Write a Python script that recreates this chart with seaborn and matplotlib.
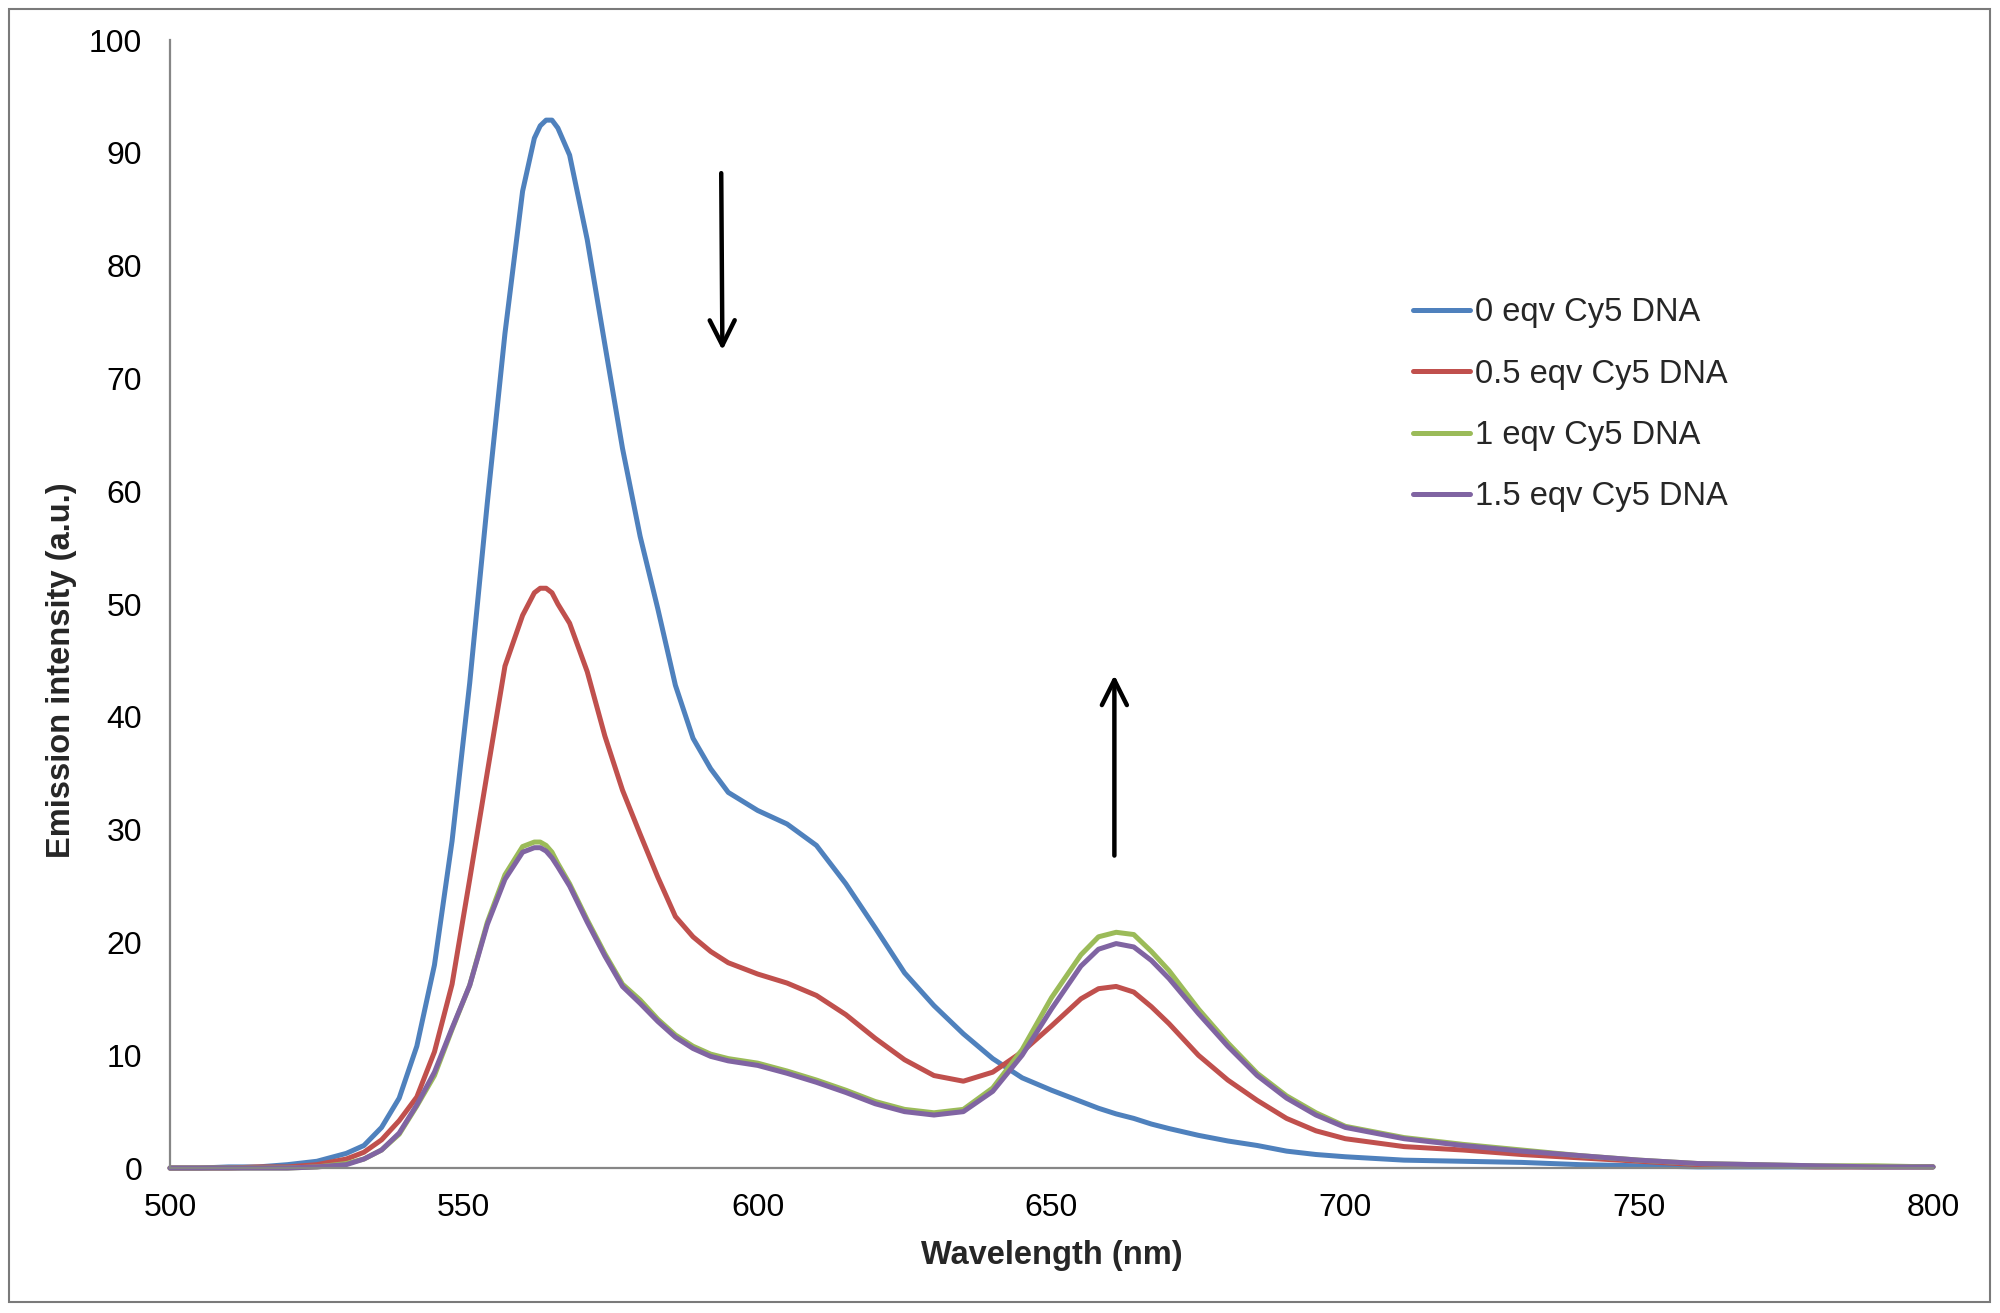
import matplotlib
matplotlib.use('Agg')
import numpy as np
import pandas as pd
import matplotlib.pyplot as plt
import seaborn as sns
from matplotlib.patches import Rectangle

# Emission spectra, values
wavelength = [500, 505, 510, 515, 520, 525, 530, 533, 536, 539,
              542, 545, 548, 551, 554, 557, 560, 562, 563, 564, 565, 566,
              568, 571, 574, 577, 580, 583, 586, 589, 592, 595,
              600, 605, 610, 615, 620, 625, 630, 635, 640, 645,
              650, 655, 658, 661, 664, 667, 670, 675, 680, 685,
              690, 695, 700, 710, 720, 730, 740, 750, 760, 770,
              780, 790, 800]

eqv_0 = [0.0, 0.0, 0.1, 0.1, 0.3, 0.6, 1.3, 2.0, 3.6, 6.2,
         10.8, 18.0, 29.0, 43.0, 59.0, 74.0, 86.6, 91.3, 92.4, 92.9, 92.9, 92.2,
         89.8, 82.3, 73.0, 63.8, 56.0, 49.6, 42.8, 38.1, 35.4, 33.3,
         31.7, 30.5, 28.6, 25.2, 21.3, 17.3, 14.4, 11.9, 9.7, 8.0,
         6.9, 5.9, 5.3, 4.8, 4.4, 3.9, 3.5, 2.9, 2.4, 2.0,
         1.5, 1.2, 1.0, 0.7, 0.6, 0.5, 0.3, 0.2, 0.1, 0.1,
         0.1, 0.1, 0.1]

eqv_05 = [0.0, 0.0, 0.0, 0.1, 0.1, 0.3, 0.8, 1.4, 2.5, 4.2,
          6.3, 10.3, 16.3, 25.6, 35.1, 44.5, 49.0, 51.0, 51.4, 51.4, 51.0, 50.0,
          48.3, 44.0, 38.3, 33.5, 29.6, 25.8, 22.3, 20.5, 19.2, 18.2,
          17.2, 16.4, 15.3, 13.6, 11.5, 9.6, 8.2, 7.7, 8.5, 10.3,
          12.6, 15.0, 15.9, 16.1, 15.6, 14.3, 12.8, 10.0, 7.8, 6.0,
          4.4, 3.3, 2.6, 1.9, 1.6, 1.2, 0.9, 0.6, 0.3, 0.2,
          0.1, 0.1, 0.1]

eqv_1 = [0.0, 0.0, 0.0, 0.0, 0.0, 0.1, 0.4, 0.8, 1.6, 3.0,
         5.5, 8.2, 12.3, 16.2, 21.8, 26.0, 28.5, 28.9, 28.9, 28.6, 28.0, 27.0,
         25.2, 22.0, 19.0, 16.3, 14.9, 13.2, 11.8, 10.8, 10.1, 9.7,
         9.3, 8.6, 7.8, 6.9, 5.9, 5.2, 4.9, 5.2, 7.1, 10.5,
         15.1, 18.9, 20.5, 20.9, 20.7, 19.2, 17.5, 14.1, 11.1, 8.4,
         6.4, 4.9, 3.7, 2.7, 2.1, 1.6, 1.1, 0.7, 0.4, 0.3,
         0.2, 0.2, 0.1]

eqv_15 = [0.0, 0.0, 0.0, 0.0, 0.0, 0.1, 0.3, 0.8, 1.6, 3.1,
          5.6, 8.5, 12.4, 16.2, 21.6, 25.6, 28.0, 28.4, 28.4, 28.1, 27.5, 26.7,
          25.0, 21.8, 18.8, 16.1, 14.6, 13.0, 11.6, 10.6, 9.9, 9.5,
          9.1, 8.4, 7.6, 6.7, 5.7, 5.0, 4.7, 5.0, 6.8, 10.0,
          14.1, 17.9, 19.4, 19.9, 19.6, 18.4, 16.8, 13.7, 10.8, 8.2,
          6.2, 4.7, 3.6, 2.6, 2.0, 1.5, 1.1, 0.7, 0.4, 0.3,
          0.2, 0.1, 0.1]

series_names = ['0 eqv Cy5 DNA', '0.5 eqv Cy5 DNA', '1 eqv Cy5 DNA', '1.5 eqv Cy5 DNA']
series_colors = ['#4F81BD', '#C0504D', '#9BBB59', '#8064A2']
x_ticks = [500, 550, 600, 650, 700, 750, 800]
y_ticks = [0, 10, 20, 30, 40, 50, 60, 70, 80, 90, 100]

df = pd.concat([
    pd.DataFrame({'wl': wavelength, 'intensity': vals, 'series': name})
    for name, vals in zip(series_names, [eqv_0, eqv_05, eqv_1, eqv_15])
], ignore_index=True)

sns.set_theme(style='white')
plt.rcParams['font.family'] = ['Liberation Sans', 'DejaVu Sans']

fig = plt.figure(figsize=(20, 13.13), dpi=100)
ax = fig.add_axes([0.085, 0.1104, 0.8815, 0.8591])

sns.lineplot(data=df, x='wl', y='intensity', hue='series', hue_order=series_names,
             palette=dict(zip(series_names, series_colors)), estimator=None,
             sort=False, lw=3.6, ax=ax)
for line in ax.lines:
    line.set_clip_on(False)
    line.set_solid_joinstyle('round')
    line.set_solid_capstyle('round')

ax.set_xlim(500, 800)
ax.set_ylim(0, 100)
ax.set_xticks(x_ticks)
ax.set_yticks(y_ticks)

sns.despine(ax=ax)
for side in ['left', 'bottom']:
    ax.spines[side].set_color('#868686')
    ax.spines[side].set_linewidth(1.6)
ax.tick_params(axis='both', direction='out', length=7, width=1.6,
               color='#868686', labelcolor='black', labelsize=23, pad=13)
ax.tick_params(axis='x', pad=11)

ax.set_xlabel('Wavelength (nm)', fontsize=23.5, fontweight='bold', labelpad=12)
ax.set_ylabel('Emission intensity (a.u.)', fontsize=23.5, fontweight='bold')
ax.yaxis.set_label_coords(-0.053, 0.4415)

# arrows marking the change of the two bands
arrow = dict(arrowstyle='->', lw=3.2, color='black', mutation_scale=45,
             shrinkA=0, shrinkB=0)
ax.annotate('', xy=(594.0, 72.5), xytext=(593.8, 88.2), arrowprops=arrow)
ax.annotate('', xy=(660.7, 43.7), xytext=(660.7, 27.7), arrowprops=arrow)

handles, labels = ax.get_legend_handles_labels()
ax.legend(handles, labels, loc='upper left', bbox_to_anchor=(0.705, 0.772),
          frameon=False, fontsize=23.5, handlelength=1.75, handletextpad=0.15,
          labelspacing=0.93, borderpad=0, borderaxespad=0)

fig.patches.append(Rectangle((9 / 2000, 1 - 1302 / 1313), 1981 / 2000, 1293 / 1313,
                             transform=fig.transFigure, fill=False,
                             edgecolor='#7a7a7a', lw=1.5))

fig.savefig('out.png', dpi=100)
